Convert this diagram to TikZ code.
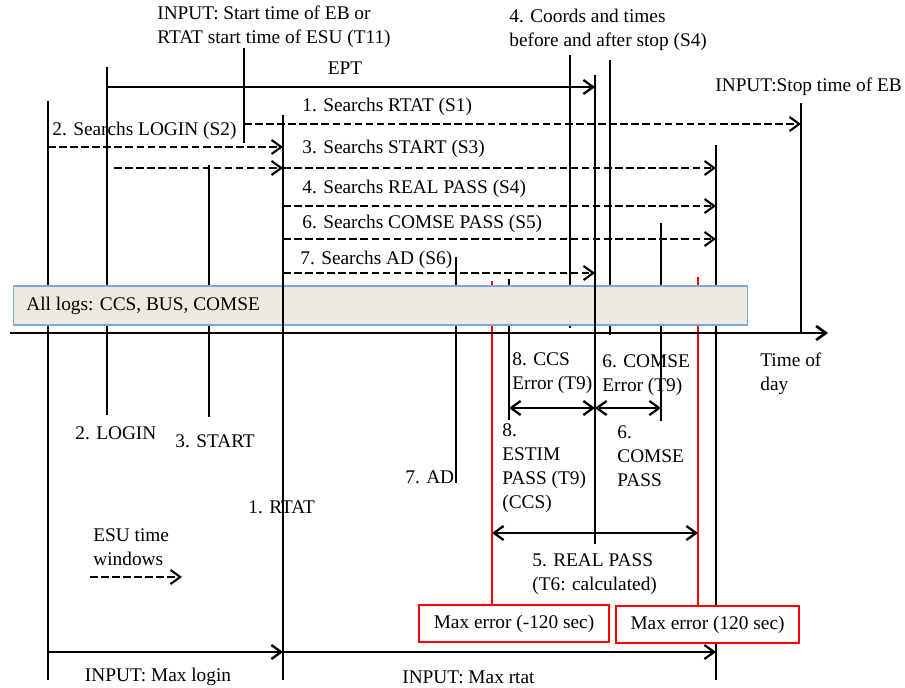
\documentclass[tikz,border=0pt]{standalone}
\usepackage{fontspec}
\setmainfont{Liberation Serif}
\usetikzlibrary{arrows.meta}
\definecolor{logfill}{HTML}{ECEAE0}
\definecolor{logline}{HTML}{7EA6D6}
\tikzset{
  >={Straight Barb[length=5.5pt,width=8pt]},
  vline/.style={line width=0.75pt},
  redline/.style={red,line width=1.2pt},
  win/.style={->,line width=1.2pt,dash pattern=on 4.3pt off 2pt},
  spanarrow/.style={->,line width=1.3pt},
  lbl/.style={anchor=west,inner sep=0pt,align=left},
  errbox/.style={draw=red,fill=white,line width=0.7pt,minimum height=0.74cm,inner sep=0pt},
  logbox/.style={draw=logline,fill=logfill,line width=0.6pt,minimum width=14.7cm,minimum height=0.78cm}
}
\begin{document}
\begin{tikzpicture}[x=0.02cm,y=-0.02cm,font=\fontsize{11}{13.6}\selectfont]
        \useasboundingbox (0,0) rectangle (905,687);
        % time marks
        \coordinate (esu) at (48,101);
        \coordinate (login) at (107,67);
        \coordinate (start) at (209,165);
        \coordinate (rtat) at (283,115);
        \coordinate (inp) at (244,48);
        \coordinate (ad) at (456,257);
        \coordinate (ccs) at (509,279);
        \coordinate (estim) at (492,281);
        \coordinate (coords) at (570,55);
        \coordinate (stop) at (595,75);
        \coordinate (after) at (610,60);
        \coordinate (comse) at (661,223);
        \coordinate (real) at (698,277);
        \coordinate (esuend) at (716,145);
        \coordinate (eb) at (801,103);
        % rows
        \coordinate (ept) at (0,87);
        \coordinate (s1) at (0,124);
        \coordinate (s2) at (0,147);
        \coordinate (s3) at (0,168);
        \coordinate (s4) at (0,206);
        \coordinate (s5) at (0,239);
        \coordinate (s6) at (0,273);
        \coordinate (err) at (0,408);
        \coordinate (pass) at (0,533);
        \coordinate (lim) at (0,652);
        \coordinate (t0) at (10,333);
        \coordinate (t1) at (828,333);
        \coordinate (leg0) at (90,577);
        \coordinate (leg1) at (182,577);

        \draw [vline] (esu) -- (48,680);
        \draw [vline] (login) -- (107,415);
        \draw [vline] (start) -- (209,417);
        \draw [vline] (inp) -- (244,143);
        \draw [vline] (ad) -- (456,483);
        \draw [vline] (ccs) -- (509,420);
        \draw [vline] (coords) -- (570,328);
        \draw [vline] (after) -- (610,335);
        \draw [vline] (comse) -- (661,421);
        \draw [vline] (esuend) -- (716,680);
        \draw [vline] (eb) -- (801,333);
        \draw [redline] (estim) -- (492,605);
        \draw [redline] (real) -- (698,606);

        \node [logbox] (logs) at (380.5,305.5) {};
        \node [lbl] (logtxt) at (26,306) {All logs: CCS, BUS, COMSE};

        \draw [vline] (rtat) -- (283,680);
        \draw [line width=1.2pt] (stop) -- (595,544);
        \draw [line width=1.5pt,->] (t0) -- (t1);

        % search windows
        \draw [spanarrow] (login |- ept) -- (stop |- ept);
        \draw [win] (inp |- s1) -- (eb |- s1);
        \draw [win] (esu |- s2) -- (rtat |- s2);
        \draw [win,shorten <=4pt] (login |- s3) -- (rtat |- s3);
        \draw [win] (rtat |- s3) -- (esuend |- s3);
        \draw [win] (rtat |- s4) -- (esuend |- s4);
        \draw [win] (rtat |- s5) -- (esuend |- s5);
        \draw [win] (rtat |- s6) -- (stop |- s6);
        \draw [win] (leg0) -- (leg1);

        % passes
        \draw [spanarrow,<->] (ccs |- err) -- (stop |- err);
        \draw [spanarrow,<->] (stop |- err) -- (comse |- err);
        \draw [spanarrow,<->] (estim |- pass) -- (real |- pass);
        \draw [spanarrow] (esu |- lim) -- (rtat |- lim);
        \draw [spanarrow] (rtat |- lim) -- (esuend |- lim);

        % labels
        \node [lbl] (t11) at (157,27) {INPUT: Start time of EB or\\RTAT start time of ESU (T11)};
        \node (eptlbl) at (345,68) {EPT};
        \node [lbl] (coordlbl) at (509,30) {4. Coords and times\\before and after stop (S4)};
        \node [lbl] (eblbl) at (715,87) {INPUT:Stop time of EB};
        \node [lbl] (s1lbl) at (302,107) {1. Searchs RTAT (S1)};
        \node [lbl] (s2lbl) at (52,131) {2. Searchs LOGIN (S2)};
        \node [lbl] (s3lbl) at (302,149) {3. Searchs START (S3)};
        \node [lbl] (s4lbl) at (302,189) {4. Searchs REAL PASS (S4)};
        \node [lbl] (s5lbl) at (302,224) {6. Searchs COMSE PASS (S5)};
        \node [lbl] (s6lbl) at (300,260) {7. Searchs AD (S6)};
        \node [lbl] (daylbl) at (760,374) {Time of\\day};
        \node [lbl] (ccserr) at (512,373) {8. CCS\\Error (T9)};
        \node [lbl] (comseerr) at (602,375) {6. COMSE\\Error (T9)};
        \node [lbl] (loginlbl) at (75,433) {2. LOGIN};
        \node [lbl] (startlbl) at (175,441) {3. START};
        \node [lbl] (estimlbl) at (502,468) {8.\\ESTIM\\PASS (T9)\\(CCS)};
        \node [lbl] (comselbl) at (617,456) {6.\\COMSE\\PASS};
        \node [lbl] (adlbl) at (405,477) {7. AD};
        \node [lbl] (rtatlbl) at (248,507) {1. RTAT};
        \node [lbl] (leglbl) at (93,547) {ESU time\\windows};
        \node [lbl] (reallbl) at (532,574) {5. REAL PASS\\(T6: calculated)};
        \node [errbox,minimum width=3.8cm] (errneg) at (514,623.5) {Max error (-120 sec)};
        \node [errbox,minimum width=3.66cm] (errpos) at (707.5,624.5) {Max error (120 sec)};
        \node (maxlogin) at (158,677) {INPUT: Max login};
        \node [lbl] (maxrtat) at (402,677) {INPUT: Max rtat};
    \end{tikzpicture}
\end{document}
